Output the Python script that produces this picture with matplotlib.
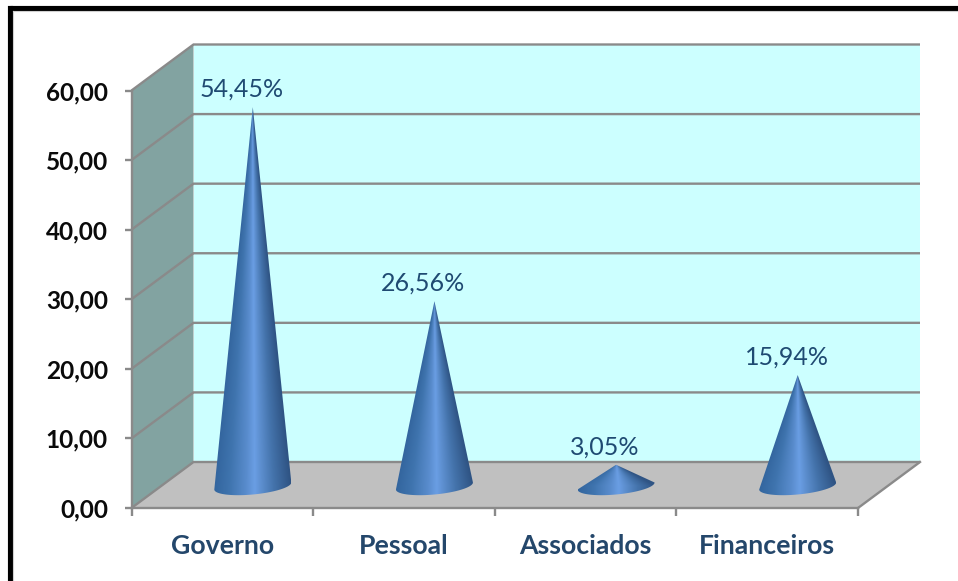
import numpy as np
import matplotlib
matplotlib.use("Agg")
import matplotlib.pyplot as plt
from matplotlib.colors import LinearSegmentedColormap
from matplotlib.lines import Line2D
from matplotlib.patches import Polygon, Rectangle

# Chart data
categories = ["Governo", "Pessoal", "Associados", "Financeiros"]
values = [54.45, 26.56, 3.05, 15.94]
y_ticks = [0, 10, 20, 30, 40, 50, 60]

W, H = 958, 581
fig = plt.figure(figsize=(W / 100, H / 100), dpi=100, facecolor="white")

# Front plane of the 3D box, in pixels
LEFT, RIGHT, BOTTOM, TOP = 131.5, 858.0, 508.0, 90.5
ax = fig.add_axes([LEFT / W, 1 - BOTTOM / H, (RIGHT - LEFT) / W, (BOTTOM - TOP) / H])
ax.set_xlim(0, len(categories))
ax.set_ylim(0, 60)
ax.patch.set_visible(False)

px_x = len(categories) / (RIGHT - LEFT)  # data units per pixel
px_y = 60 / (BOTTOM - TOP)
DX, DY = 62 * px_x, 46 * px_y            # box depth

GRID = "#8a8a8a"
WALL = "#82a3a1"
BACK = "#ccffff"
FLOOR = "#c0c0c0"
FONT = "Lato"
xmax = len(categories)

# Box faces
ax.add_patch(Rectangle((DX, DY), xmax, 60, fc=BACK, ec="none", zorder=1, clip_on=False))
ax.add_patch(Polygon([(0, 0), (DX, DY), (DX, 60 + DY), (0, 60)], fc=WALL, ec="none", zorder=1, clip_on=False))
ax.add_patch(Polygon([(0, 0), (xmax, 0), (xmax + DX, DY), (DX, DY)], fc=FLOOR, ec="none", zorder=1, clip_on=False))

# Gridlines over the wall and the back plane
for t in y_ticks:
    ax.plot([0, DX, xmax + DX], [t, t + DY, t + DY], color=GRID, lw=1.7, zorder=2,
            clip_on=False, solid_capstyle="butt", solid_joinstyle="miter")
ax.plot([xmax, xmax + DX], [0, DY], color=GRID, lw=1.7, zorder=2, clip_on=False)

# Cones: the shading fans out from the apex towards the base
shade = LinearSegmentedColormap.from_list(
    "cone",
    [(0.0, "#33659e"), (0.20, "#3f74ae"), (0.42, "#598ccd"), (0.53, "#6a9ee4"),
     (0.62, "#5c8ece"), (0.78, "#4473ab"), (1.0, "#2f5484")],
)
HALF_W = 38.5 * px_x
HALF_H = 8.5 * px_y
TILT = 3.5 * px_y
cy = 22 * px_y

for i, (name, v) in enumerate(zip(categories, values)):
    cx = i + 0.5 + 30.5 * px_x
    t = np.linspace(np.pi, 2 * np.pi, 80)
    arc_x = cx + HALF_W * np.cos(t)
    arc_y = cy + HALF_H * np.sin(t) + TILT * np.cos(t)
    pts = np.column_stack([np.r_[cx, arc_x], np.r_[v + cy, arc_y]])

    y0 = cy - HALF_H - TILT
    y1 = v + cy
    xs = np.linspace(-1, 1, 240)
    ys = np.linspace(y0, y1, 300)
    frac = np.clip((ys - cy) / v, 0, 0.995)
    u = 0.5 + 0.5 * xs[None, :] / (1 - frac[:, None])
    im = ax.imshow(np.clip(u, 0, 1), cmap=shade, vmin=0, vmax=1, origin="lower",
                   extent=[cx - HALF_W, cx + HALF_W, y0, y1],
                   aspect="auto", zorder=3, interpolation="bilinear")
    im.set_clip_path(Polygon(pts, closed=True, transform=ax.transData))
    ax.text(cx - 11 * px_x, v + cy + 0.95, f"{v:.2f}%".replace(".", ","), ha="center", va="bottom",
            fontsize=18, color="#1f4a72", family=FONT, zorder=5)

ax.set_xlim(0, xmax)
ax.set_ylim(0, 60)

# Axes: left and bottom spines with outward ticks
for side in ("top", "right"):
    ax.spines[side].set_visible(False)
for side in ("left", "bottom"):
    ax.spines[side].set_color(GRID)
    ax.spines[side].set_linewidth(1.7)
    ax.spines[side].set_zorder(4)

ax.set_yticks(y_ticks)
ax.set_yticklabels([f"{t:.2f}".replace(".", ",") for t in y_ticks], fontsize=17.6,
                   fontweight="bold", family=FONT, color="#0a0a0a")
ax.tick_params(axis="y", length=5, width=1.7, color=GRID, pad=12)
ax.set_xticks(range(len(categories) + 1))
ax.set_xticklabels([])
ax.tick_params(axis="x", which="major", length=6, width=1.7, color=GRID)
ax.set_xticks(np.arange(len(categories)) + 0.5, minor=True)
ax.set_xticklabels(categories, minor=True, fontsize=19.2, fontweight="bold",
                   family=FONT, color="#24476b")
ax.tick_params(axis="x", which="minor", length=0, pad=19)

# Heavy frame along the top and left edges, with a faint shadow
fig.add_artist(Line2D([9.5 / W, 9.5 / W], [0, 1 - 7.5 / H], color="black", lw=3.7, solid_capstyle="projecting"))
fig.add_artist(Line2D([9.5 / W, 1], [1 - 7.5 / H, 1 - 7.5 / H], color="black", lw=3.7, solid_capstyle="butt"))
fig.add_artist(Line2D([12.5 / W, 1], [1 - 10.5 / H, 1 - 10.5 / H], color="#d0d0d0", lw=0.8))
fig.add_artist(Line2D([12.5 / W, 12.5 / W], [0, 1 - 10.5 / H], color="#d0d0d0", lw=0.8))

fig.savefig("out.png", dpi=100)
